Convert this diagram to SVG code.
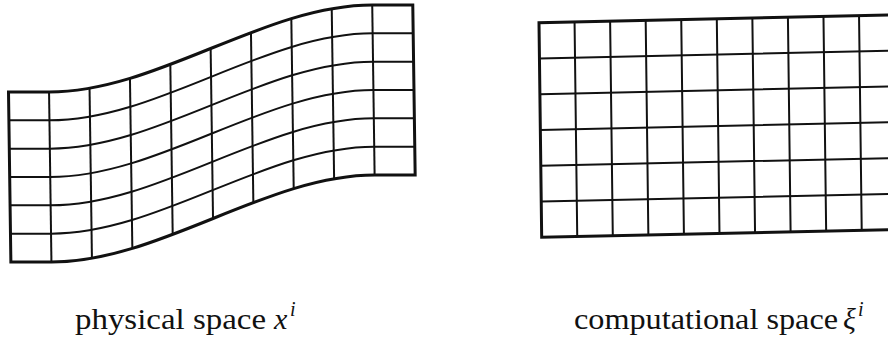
<svg xmlns="http://www.w3.org/2000/svg" width="888" height="345" viewBox="0 0 888 345">
<style>
.outer{fill:none;stroke:#111;stroke-width:3;stroke-linejoin:miter}
.inner{fill:none;stroke:#111;stroke-width:2}
.lbl{font-family:"Liberation Serif","Times New Roman",serif;font-size:30px;fill:#111}
.it{font-style:italic}
.sup{font-size:20px}
</style>
<rect width="888" height="345" fill="#fff"/>
<g id="physical-grid" transform="translate(8.5,92) matrix(1,0,0.014,1,0,0)">
<g class="inner">
<path d="M0 28.33 H40.55 C148.7 28.33 256.85 -58.67 365 -58.67 H405.5"/>
<path d="M0 56.67 H40.55 C148.7 56.67 256.85 -30.33 365 -30.33 H405.5"/>
<path d="M0 85 H40.55 C148.7 85 256.85 -2 365 -2 H405.5"/>
<path d="M0 113.33 H40.55 C148.7 113.33 256.85 26.33 365 26.33 H405.5"/>
<path d="M0 141.67 H40.55 C148.7 141.67 256.85 54.67 365 54.67 H405.5"/>
<path d="M40.55 0 V170"/>
<path d="M81.1 -3.74 V166.26"/>
<path d="M121.65 -13.59 V156.41"/>
<path d="M162.2 -27.53 V142.47"/>
<path d="M202.75 -43.5 V126.5"/>
<path d="M243.3 -59.47 V110.53"/>
<path d="M283.85 -73.41 V96.59"/>
<path d="M324.4 -83.26 V86.74"/>
<path d="M364.95 -87 V83"/>
</g>
<path class="outer" d="M0 0 H40.55 C148.7 0 256.85 -87 365 -87 H405.5 V83 H365 C256.85 83 148.7 170 40.55 170 H0 Z"/>
</g>
<g id="computational-grid" transform="translate(539,22.7) matrix(1,-0.022,0.0125,1,0,0)">
<g class="inner">
<path d="M0 35.77 H360 M0 71.53 H360 M0 107.3 H360 M0 143.07 H360 M0 178.83 H360"/>
<path d="M35.56 0 V214.6 M71.12 0 V214.6 M106.68 0 V214.6 M142.24 0 V214.6 M177.8 0 V214.6 M213.36 0 V214.6 M248.92 0 V214.6 M284.48 0 V214.6 M320.04 0 V214.6 M355.6 0 V214.6"/>
</g>
<path class="outer" d="M360 0 H0 V214.6 H360"/>
</g>
<g id="labels">
<text class="lbl" x="75" y="329" textLength="191" lengthAdjust="spacingAndGlyphs">physical space</text>
<text class="lbl it" x="274" y="329">x</text>
<text class="lbl it sup" x="290" y="316">i</text>
<text class="lbl" x="574" y="329" textLength="264" lengthAdjust="spacingAndGlyphs">computational space</text>
<text class="lbl it" x="843" y="329">ξ</text>
<text class="lbl it sup" x="858" y="316">i</text>
</g>
</svg>
